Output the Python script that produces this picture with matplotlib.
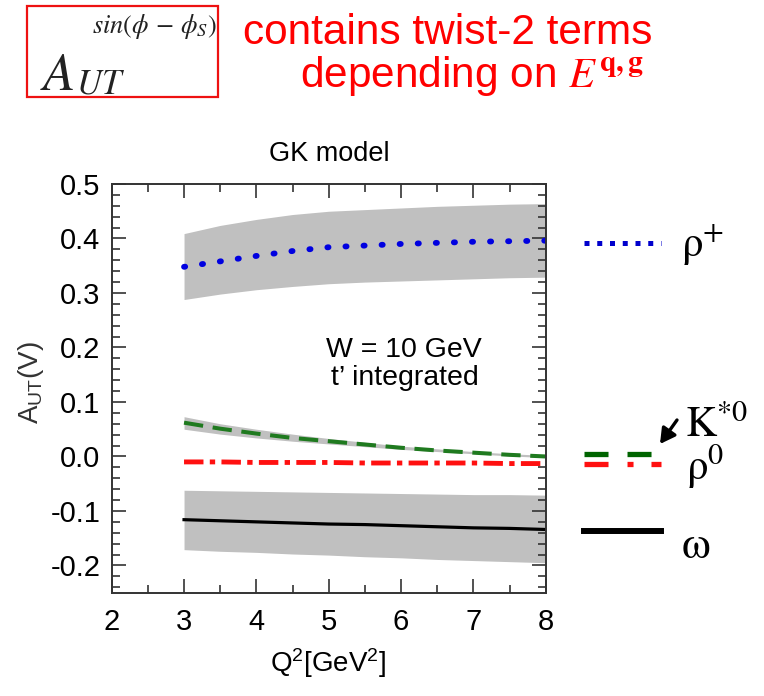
import matplotlib
matplotlib.use("Agg")
import matplotlib.pyplot as plt
from matplotlib.patches import Rectangle
from matplotlib.ticker import MultipleLocator

plt.rcParams['font.family'] = ['Liberation Sans', 'DejaVu Sans']
plt.rcParams['mathtext.fontset'] = 'custom'
plt.rcParams['mathtext.rm'] = 'Liberation Sans'
plt.rcParams['mathtext.it'] = 'Liberation Sans:italic'
plt.rcParams['mathtext.bf'] = 'Liberation Sans:bold'

# ---------------- data ----------------
q2 = [3, 3.5, 4, 4.5, 5, 5.5, 6, 6.5, 7, 7.5, 8]

rho_plus = [0.348, 0.358, 0.368, 0.377, 0.384, 0.387, 0.390, 0.392, 0.394, 0.395, 0.396]
rho_plus_hi = [0.409, 0.424, 0.435, 0.444, 0.450, 0.453, 0.456, 0.459, 0.461, 0.463, 0.464]
rho_plus_lo = [0.288, 0.298, 0.306, 0.312, 0.317, 0.320, 0.322, 0.324, 0.326, 0.328, 0.329]

kstar0 = [0.062, 0.051, 0.042, 0.034, 0.028, 0.022, 0.016, 0.011, 0.007, 0.003, 0.000]
kstar0_hi = [0.073, 0.060, 0.050, 0.041, 0.033, 0.026, 0.019, 0.014, 0.009, 0.005, 0.002]
kstar0_lo = [0.050, 0.041, 0.034, 0.028, 0.023, 0.018, 0.013, 0.009, 0.005, 0.001, -0.002]

rho0 = [-0.010, -0.010, -0.011, -0.011, -0.011, -0.012, -0.012, -0.012, -0.012, -0.013, -0.013]

omega = [-0.116, -0.118, -0.120, -0.122, -0.124, -0.125, -0.127, -0.129, -0.131, -0.132, -0.134]
omega_hi = [-0.062, -0.063, -0.064, -0.065, -0.066, -0.067, -0.068, -0.069, -0.070, -0.070, -0.071]
omega_lo = [-0.171, -0.174, -0.176, -0.179, -0.181, -0.184, -0.186, -0.189, -0.191, -0.193, -0.195]

xticks = [2, 3, 4, 5, 6, 7, 8]
yticks = [-0.2, -0.1, 0.0, 0.1, 0.2, 0.3, 0.4, 0.5]
ytick_labels = ['-0.2', '-0.1', '0.0', '0.1', '0.2', '0.3', '0.4', '0.5']

W, H = 764, 696
fig = plt.figure(figsize=(W / 100, H / 100), dpi=100)

def fx(px):
    return px / W

def fy(py):
    return 1 - py / H

ax = fig.add_axes([fx(111.7), fy(592.7), fx(545.7) - fx(111.7), fy(184) - fy(592.7)])

band_c = '#c0c0c0'
ax.fill_between(q2, rho_plus_lo, rho_plus_hi, color=band_c, lw=0)
ax.fill_between(q2, kstar0_lo, kstar0_hi, color=band_c, lw=0)
ax.fill_between(q2, omega_lo, omega_hi, color=band_c, lw=0)

blue = '#0000e0'
green = '#1f7a1f'
red = '#ff1010'

ax.plot(q2, rho_plus, color=blue, lw=4.2, linestyle=(0, (0.2, 2.9)),
        dash_capstyle='round', solid_capstyle='round')
ax.plot(q2, kstar0, color=green, lw=2.9, linestyle=(0, (4.8, 2.4)))
ax.plot(q2, rho0, color=red, lw=3.5, linestyle=(0, (4.0, 1.3, 1.1, 1.3)))
ax.plot(q2, omega, color='black', lw=2.3)

ax.set_xlim(2, 8)
ax.set_ylim(-0.25, 0.5)
ax.set_xticks(xticks)
ax.set_xticklabels([str(t) for t in xticks])
ax.set_yticks(yticks)
ax.set_yticklabels(ytick_labels)
ax.xaxis.set_minor_locator(MultipleLocator(0.5))
ax.yaxis.set_minor_locator(MultipleLocator(0.02))
ax.tick_params(which='both', direction='in', top=True, right=True,
               labelsize=21, color='#333333', width=1.2)
ax.tick_params(which='major', length=10)
ax.tick_params(which='minor', length=6)
ax.tick_params(axis='y', pad=8)
ax.tick_params(axis='x', pad=11)
for s in ax.spines.values():
    s.set_linewidth(1.4)
    s.set_color('#333333')

# legend keys, placed at the end values of each curve, outside the axes
kx = [8.53, 9.60]
ax.plot(kx, [rho_plus[-1] - 0.004] * 2, color='#0000cc', lw=3.6,
        linestyle=(0, (1.0, 1.55)), dash_capstyle='butt', clip_on=False)
ax.plot(kx, [kstar0[-1] + 0.005] * 2, color='#006400', lw=3.8,
        linestyle=(0, (4.55, 3.6)), dash_capstyle='butt', clip_on=False)
ax.plot(kx, [rho0[-1] - 0.001] * 2, color=red, lw=3.8,
        linestyle=(0, (4.55, 3.6, 1.14, 3.4)), dash_capstyle='butt', clip_on=False)
ax.plot(kx, [omega[-1] - 0.003] * 2, color='black', lw=4.3, clip_on=False)

# texts
fig.text(fx(329), fy(154), 'GK model', fontsize=19.5, ha='center', va='center')
fig.text(fx(404), fy(357), 'W = 10 GeV', fontsize=20.5, ha='center', va='baseline')
fig.text(fx(405), fy(385), 't\u2019 integrated', fontsize=20.5, ha='center', va='baseline')
fig.text(fx(328), fy(663), r'Q$^{2}$[GeV$^{2}$]', fontsize=20, ha='center', va='center')
fig.text(fx(31), fy(383), r'A$_{\mathrm{UT}}$(V)', fontsize=20, ha='center', va='center',
         rotation=90, color='#333333')

serif = ['Liberation Serif', 'DejaVu Serif']
fig.text(fx(681), fy(257), r'$\mathrm{\rho}^{+}$', fontsize=31, ha='left', va='baseline',
         math_fontfamily='stix', family=serif)
fig.text(fx(685), fy(437), r'$\mathrm{K}^{*0}$', fontsize=31, ha='left', va='baseline',
         math_fontfamily='stix', family=serif)
fig.text(fx(686), fy(480), r'$\mathrm{\rho}^{0}$', fontsize=31, ha='left', va='baseline',
         math_fontfamily='stix', family=serif)
fig.text(fx(681), fy(558), r'$\mathrm{\omega}$', fontsize=33, ha='left', va='baseline',
         math_fontfamily='stix', family=serif)

ax.annotate('', xy=(fx(660), fy(444)), xycoords='figure fraction',
            xytext=(fx(677), fy(420)), textcoords='figure fraction',
            arrowprops=dict(arrowstyle='-|>,head_length=0.9,head_width=0.5',
                            color='black', lw=2.4, shrinkA=0, shrinkB=0))

# header
fig.add_artist(Rectangle((fx(27), fy(97)), fx(218) - fx(27), fy(6) - fy(97),
                         transform=fig.transFigure, fill=False, edgecolor='#ee1111', lw=1.6))
fig.text(fx(40), fy(90), r'$A$', fontsize=38, ha='left', va='baseline',
         math_fontfamily='stix', color='#222222')
fig.text(fx(76), fy(93), r'$UT$', fontsize=25, ha='left', va='baseline',
         math_fontfamily='stix', color='#222222')
fig.text(fx(92), fy(33), r'$sin(\phi\,-\,\phi_S)$', fontsize=19, ha='left', va='baseline',
         math_fontfamily='stix', color='#222222')

fig.text(fx(243), fy(33), 'contains twist-2 terms', fontsize=30.5, color='#ff0000',
         ha='left', va='center')
fig.text(fx(300), fy(76), r'depending on $\mathit{E}^{\mathbf{q,g}}$', fontsize=30.5,
         color='#ff0000', ha='left', va='center', math_fontfamily='stix')

fig.savefig('out.png', dpi=100)
